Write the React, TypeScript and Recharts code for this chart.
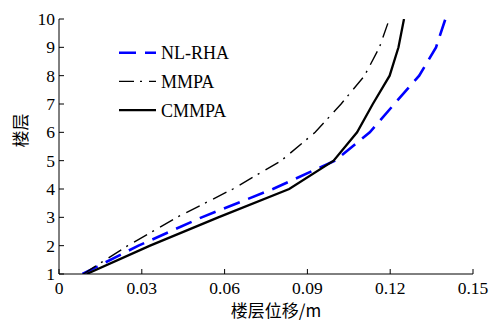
import { LineChart, Line, XAxis, YAxis } from "recharts"

// storey displacement profiles (m) for floors 1..10
const floors = [1, 2, 3, 4, 5, 6, 7, 8, 9, 10]
const nlRha = [0.0085, 0.0288, 0.0517, 0.0775, 0.1, 0.1126, 0.1215, 0.1305, 0.1366, 0.14]
const mmpa = [0.0088, 0.0249, 0.0427, 0.063, 0.0805, 0.0928, 0.1022, 0.1107, 0.1161, 0.1197]
const cmmpa = [0.01, 0.033, 0.0577, 0.0834, 0.0995, 0.108, 0.1137, 0.1198, 0.123, 0.125]

const xTicks = [0, 0.03, 0.06, 0.09, 0.12, 0.15]
const yTicks = floors

const SERIES = [
  { name: "NL-RHA", values: nlRha, color: "#0000ff", width: 2.6, dash: "17 9" },
  { name: "MMPA", values: mmpa, color: "#000000", width: 1.4, dash: "15 6 2 7" },
  { name: "CMMPA", values: cmmpa, color: "#000000", width: 2.3, dash: undefined },
]

const SERIF = "'Liberation Serif', 'Times New Roman', Times, serif"
const CJK = "'Noto Sans CJK SC', sans-serif"

const W = 490
const H = 317
const X_MARGIN = 8
const Y_MARGIN = 4
const TICK_LEN = 5

const serifText = { fontFamily: SERIF, fontSize: 17.5, fill: "#000" }
const cjkText = { fontFamily: CJK, fontSize: 17, fill: "#000" }

// ticks point into the plot, so draw them ourselves next to the label
function XTick({ x, y, payload }: any) {
  const axisY = y - X_MARGIN
  return (
    <g>
      <line x1={x} x2={x} y1={axisY} y2={axisY - TICK_LEN} stroke="#000" />
      <text x={x} y={y} dy="0.71em" textAnchor="middle" style={serifText}>
        {payload.value}
      </text>
    </g>
  )
}

function YTick({ x, y, payload }: any) {
  const axisX = x + Y_MARGIN
  return (
    <g>
      <line x1={axisX} x2={axisX + TICK_LEN} y1={y} y2={y} stroke="#000" />
      <text x={x} y={y} dy="0.35em" textAnchor="end" style={serifText}>
        {payload.value}
      </text>
    </g>
  )
}

function ChartLegend() {
  return (
    <svg width={W} height={H} style={{ position: "absolute", left: 0, top: 0, pointerEvents: "none" }}>
      {SERIES.map((s, i) => {
        const cy = 44.7 + i * 28.7
        return (
          <g key={s.name}>
            <line x1={111} x2={148} y1={cy} y2={cy} stroke={s.color} strokeWidth={s.width} strokeDasharray={s.dash} />
            <text x={153} y={cy} dy="0.36em" style={{ ...serifText, fontSize: 18 }}>
              {s.name}
            </text>
          </g>
        )
      })}
    </svg>
  )
}

export default function App() {
  return (
    <div style={{ position: "relative", width: W, height: H }}>
      <LineChart width={W} height={H} margin={{ top: 11, right: 25, bottom: 11, left: 11 }}>
        <XAxis
          type="number"
          dataKey="x"
          domain={[0, 0.15]}
          ticks={xTicks}
          interval={0}
          height={40}
          allowDataOverflow
          axisLine={{ stroke: "#000" }}
          tickLine={false}
          tickSize={0}
          tickMargin={X_MARGIN}
          tick={<XTick />}
          label={{
            content: ({ viewBox }: any) => (
              <text
                x={viewBox.x + viewBox.width / 2 + 10}
                y={viewBox.y + 43}
                textAnchor="middle"
                style={cjkText}
              >
                楼层位移/m
              </text>
            ),
          }}
        />
        <YAxis
          type="number"
          domain={[1, 10]}
          ticks={yTicks}
          interval={0}
          width={40}
          allowDataOverflow
          axisLine={{ stroke: "#000" }}
          tickLine={false}
          tickSize={0}
          tickMargin={Y_MARGIN}
          tick={<YTick />}
          label={{
            content: ({ viewBox }: any) => {
              const cx = viewBox.x + 2
              const cy = viewBox.y + viewBox.height / 2 - 16
              return (
                <text
                  x={cx}
                  y={cy}
                  dy="0.35em"
                  textAnchor="middle"
                  transform={`rotate(-90 ${cx} ${cy})`}
                  style={cjkText}
                >
                  楼层
                </text>
              )
            },
          }}
        />
        {SERIES.map((s) => (
          <Line
            key={s.name}
            name={s.name}
            data={floors.map((f, i) => ({ x: s.values[i], y: f }))}
            dataKey="y"
            stroke={s.color}
            strokeWidth={s.width}
            strokeDasharray={s.dash}
            dot={false}
            activeDot={false}
            isAnimationActive={false}
          />
        ))}
      </LineChart>
      <ChartLegend />
    </div>
  )
}
